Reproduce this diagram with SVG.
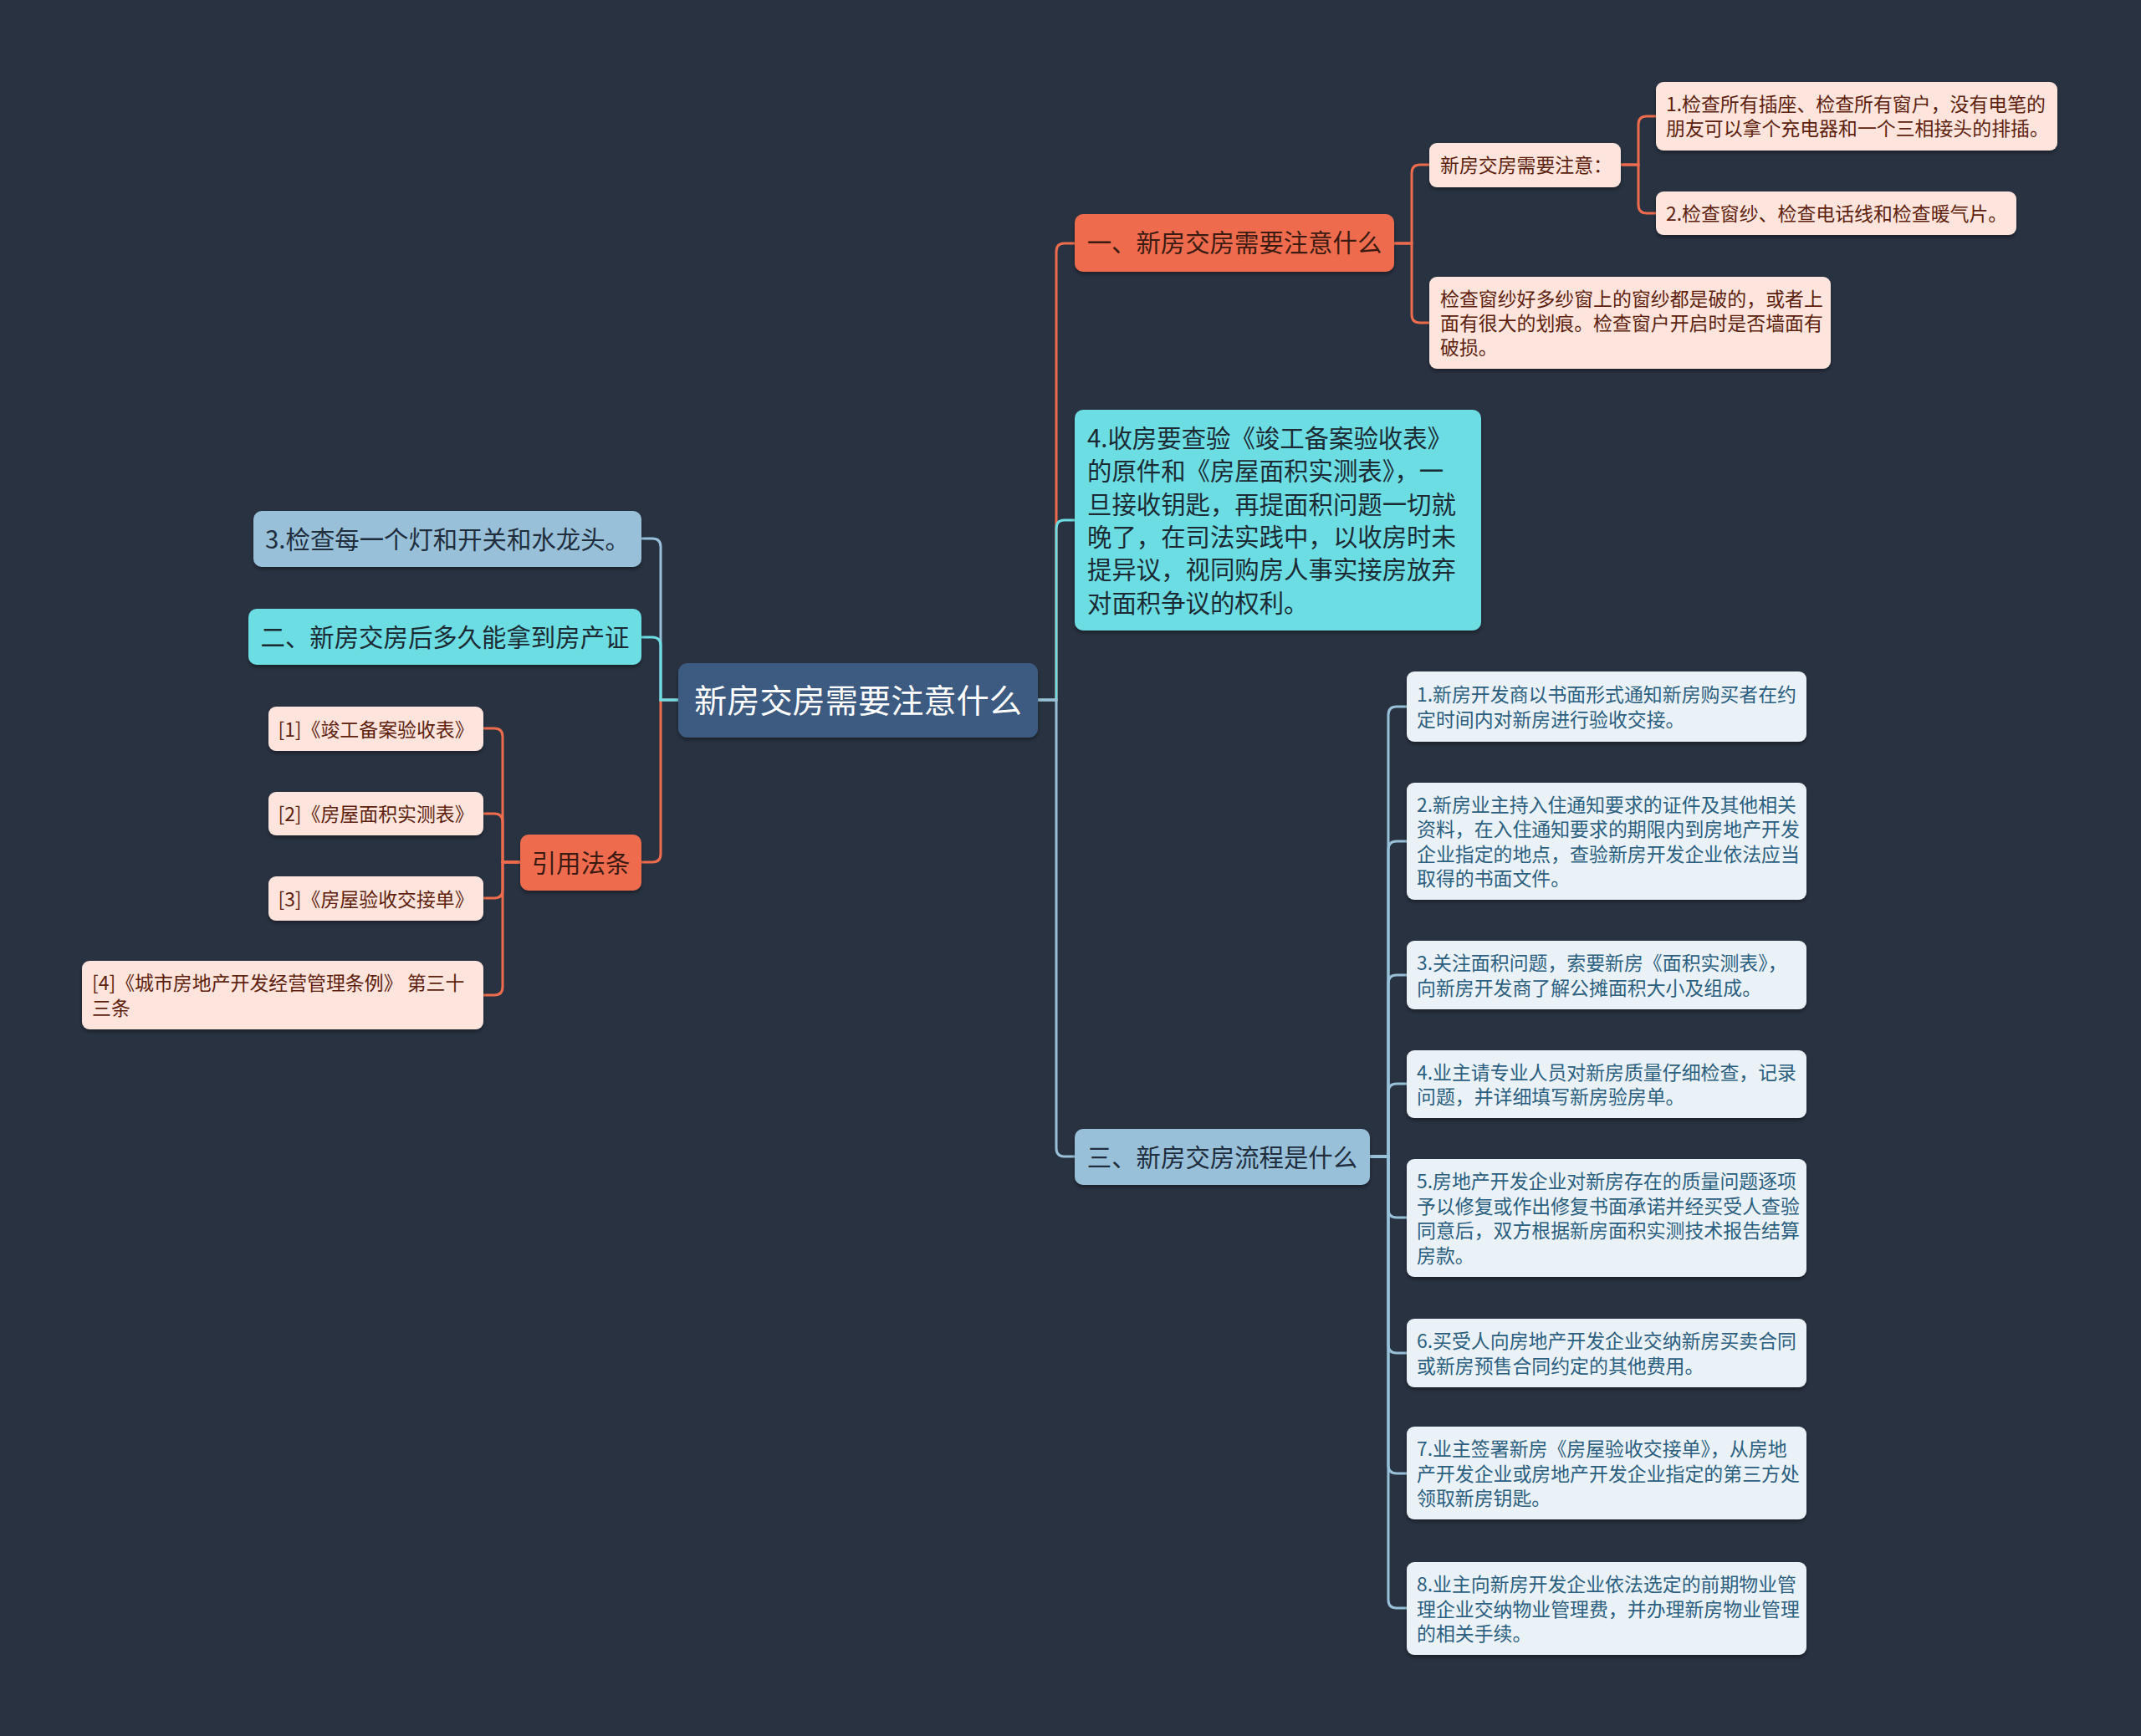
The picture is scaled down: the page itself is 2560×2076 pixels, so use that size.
<svg xmlns="http://www.w3.org/2000/svg" width="2560" height="2076" viewBox="0 0 2560 2076">
<defs>
<filter id="sh" x="-5%" y="-10%" width="110%" height="130%">
<feDropShadow dx="0" dy="3" stdDeviation="2" flood-color="#000" flood-opacity="0.35"/>
</filter>
<style>
text{font-family:"Noto Sans CJK SC","Noto Sans",sans-serif;}
.s{font-size:22.9px;}
.m{font-size:29.4px;}
.c{font-size:39.2px;fill:#ffffff;}
.mid{text-anchor:middle;}
.or rect{fill:#ee6c4d;} .or text{fill:#3b1a12;}
.pk rect{fill:#fde4dc;} .pk text{fill:#5e1f0f;}
.cy rect{fill:#6cdde2;} .cy text{fill:#1b2a33;}
.lb rect{fill:#98c1d9;} .lb text{fill:#1f2d3d;}
.vl rect{fill:#eaf2f8;} .vl text{fill:#2c5f7f;}
.root rect{fill:#3d5a80;}
rect{filter:url(#sh);}
.ln path{fill:none;stroke-width:3;stroke-linecap:round;}
.lo{stroke:#ee6c4d;} .lc{stroke:#6cdde2;} .ll{stroke:#98c1d9;}
</style>
</defs>
<rect x="0" y="0" width="2560" height="2076" fill="#293241" style="filter:none"/>

<g id="connectors" class="ln">
<!-- root right -->
<path class="lo" d="M1241,837 H1263 V301 Q1263,291 1273,291 H1285"/>
<path class="lc" d="M1241,837 H1263 V632 Q1263,622 1273,622 H1285"/>
<path class="ll" d="M1241,837 H1263 V1373 Q1263,1383 1273,1383 H1285"/>
<!-- root left -->
<path class="lo" d="M811,837 H790 V1021 Q790,1031 780,1031 H767"/>
<path class="ll" d="M811,837 H790 V654 Q790,644 780,644 H767"/>
<path class="lc" d="M811,837 H790 V772 Q790,762 780,762 H767"/>
<!-- 一 children -->
<path class="lo" d="M1667,291 H1688 V207 Q1688,197 1698,197 H1709"/>
<path class="lo" d="M1667,291 H1688 V376 Q1688,386 1698,386 H1709"/>
<!-- 新房交房需要注意 children -->
<path class="lo" d="M1938,197 H1959 V149 Q1959,139 1969,139 H1980"/>
<path class="lo" d="M1938,197 H1959 V245 Q1959,255 1969,255 H1980"/>
<!-- 引用法条 children -->
<path class="lo" d="M622,1031 H601 V881 Q601,871 591,871 H578"/>
<path class="lo" d="M622,1031 H601 V983 Q601,973 591,973 H578"/>
<path class="lo" d="M622,1031 H601 V1064 Q601,1074 591,1074 H578"/>
<path class="lo" d="M622,1031 H601 V1180 Q601,1190 591,1190 H578"/>
<!-- 三 children -->
<path class="ll" d="M1638,1383 H1660 V855 Q1660,845 1670,845 H1682"/>
<path class="ll" d="M1638,1383 H1660 V1016 Q1660,1006 1670,1006 H1682"/>
<path class="ll" d="M1638,1383 H1660 V1176 Q1660,1166 1670,1166 H1682"/>
<path class="ll" d="M1638,1383 H1660 V1306 Q1660,1296 1670,1296 H1682"/>
<path class="ll" d="M1638,1383 H1660 V1446 Q1660,1456 1670,1456 H1682"/>
<path class="ll" d="M1638,1383 H1660 V1608 Q1660,1618 1670,1618 H1682"/>
<path class="ll" d="M1638,1383 H1660 V1752 Q1660,1762 1670,1762 H1682"/>
<path class="ll" d="M1638,1383 H1660 V1913 Q1660,1923 1670,1923 H1682"/>
</g>

<g id="root" class="root">
<rect x="811" y="793" width="430" height="89" rx="11"/>
<text class="c mid" x="1026" y="852">新房交房需要注意什么</text>
</g>

<g id="n1" class="or">
<rect x="1285" y="256" width="382" height="69" rx="10"/>
<text class="m mid" x="1476" y="301">一、新房交房需要注意什么</text>
</g>
<g id="n1a" class="pk">
<rect x="1709" y="171" width="229" height="53" rx="9"/>
<text class="s" x="1722" y="206">新房交房需要注意：</text>
</g>
<g id="n1a1" class="pk">
<rect x="1980" y="98" width="480" height="82" rx="9"/>
<text class="s" x="1992"><tspan x="1992" y="133">1.检查所有插座、检查所有窗户，没有电笔的</tspan><tspan x="1992" y="162.4">朋友可以拿个充电器和一个三相接头的排插。</tspan></text>
</g>
<g id="n1a2" class="pk">
<rect x="1980" y="229" width="431" height="52" rx="9"/>
<text class="s" x="1992" y="263.5">2.检查窗纱、检查电话线和检查暖气片。</text>
</g>
<g id="n1b" class="pk">
<rect x="1709" y="331" width="480" height="110" rx="9"/>
<text class="s"><tspan x="1722" y="365.5">检查窗纱好多纱窗上的窗纱都是破的，或者上</tspan><tspan x="1722" y="394.9">面有很大的划痕。检查窗户开启时是否墙面有</tspan><tspan x="1722" y="424.3">破损。</tspan></text>
</g>

<g id="n2" class="cy">
<rect x="1285" y="490" width="486" height="264" rx="10"/>
<text class="m"><tspan x="1300" y="535">4.收房要查验《竣工备案验收表》</tspan><tspan x="1300" y="574.3">的原件和《房屋面积实测表》，一</tspan><tspan x="1300" y="613.6">旦接收钥匙，再提面积问题一切就</tspan><tspan x="1300" y="652.9">晚了，在司法实践中，以收房时未</tspan><tspan x="1300" y="692.2">提异议，视同购房人事实接房放弃</tspan><tspan x="1300" y="731.5">对面积争议的权利。</tspan></text>
</g>

<g id="n3" class="lb">
<rect x="1285" y="1350" width="353" height="67" rx="10"/>
<text class="m mid" x="1461.5" y="1394.5">三、新房交房流程是什么</text>
</g>
<g id="n3a" class="vl">
<rect x="1682" y="803" width="478" height="84" rx="9"/>
<text class="s"><tspan x="1694" y="839.3">1.新房开发商以书面形式通知新房购买者在约</tspan><tspan x="1694" y="868.7">定时间内对新房进行验收交接。</tspan></text>
</g>
<g id="n3b" class="vl">
<rect x="1682" y="936" width="478" height="140" rx="9"/>
<text class="s"><tspan x="1694" y="970.9">2.新房业主持入住通知要求的证件及其他相关</tspan><tspan x="1694" y="1000.3">资料，在入住通知要求的期限内到房地产开发</tspan><tspan x="1694" y="1029.7">企业指定的地点，查验新房开发企业依法应当</tspan><tspan x="1694" y="1059.1">取得的书面文件。</tspan></text>
</g>
<g id="n3c" class="vl">
<rect x="1682" y="1125" width="478" height="82" rx="9"/>
<text class="s"><tspan x="1694" y="1160.3">3.关注面积问题，索要新房《面积实测表》，</tspan><tspan x="1694" y="1189.7">向新房开发商了解公摊面积大小及组成。</tspan></text>
</g>
<g id="n3d" class="vl">
<rect x="1682" y="1256" width="478" height="81" rx="9"/>
<text class="s"><tspan x="1694" y="1290.8">4.业主请专业人员对新房质量仔细检查，记录</tspan><tspan x="1694" y="1320.2">问题，并详细填写新房验房单。</tspan></text>
</g>
<g id="n3e" class="vl">
<rect x="1682" y="1386" width="478" height="141" rx="9"/>
<text class="s"><tspan x="1694" y="1421.4">5.房地产开发企业对新房存在的质量问题逐项</tspan><tspan x="1694" y="1450.8">予以修复或作出修复书面承诺并经买受人查验</tspan><tspan x="1694" y="1480.2">同意后，双方根据新房面积实测技术报告结算</tspan><tspan x="1694" y="1509.6">房款。</tspan></text>
</g>
<g id="n3f" class="vl">
<rect x="1682" y="1577" width="478" height="82" rx="9"/>
<text class="s"><tspan x="1694" y="1612.3">6.买受人向房地产开发企业交纳新房买卖合同</tspan><tspan x="1694" y="1641.7">或新房预售合同约定的其他费用。</tspan></text>
</g>
<g id="n3g" class="vl">
<rect x="1682" y="1706" width="478" height="111" rx="9"/>
<text class="s"><tspan x="1694" y="1741.1">7.业主签署新房《房屋验收交接单》，从房地</tspan><tspan x="1694" y="1770.5">产开发企业或房地产开发企业指定的第三方处</tspan><tspan x="1694" y="1799.9">领取新房钥匙。</tspan></text>
</g>
<g id="n3h" class="vl">
<rect x="1682" y="1868" width="478" height="111" rx="9"/>
<text class="s"><tspan x="1694" y="1903.1">8.业主向新房开发企业依法选定的前期物业管</tspan><tspan x="1694" y="1932.5">理企业交纳物业管理费，并办理新房物业管理</tspan><tspan x="1694" y="1961.9">的相关手续。</tspan></text>
</g>

<g id="l1" class="lb">
<rect x="303" y="611" width="464" height="67" rx="10"/>
<text class="m mid" x="535" y="655.5">3.检查每一个灯和开关和水龙头。</text>
</g>
<g id="l2" class="cy">
<rect x="297" y="728" width="470" height="67" rx="10"/>
<text class="m mid" x="532" y="772.5">二、新房交房后多久能拿到房产证</text>
</g>
<g id="l3" class="or">
<rect x="622" y="998" width="145" height="67" rx="10"/>
<text class="m mid" x="694.5" y="1042.5">引用法条</text>
</g>
<g id="l3a" class="pk">
<rect x="321" y="845" width="257" height="53" rx="9"/>
<text class="s mid" x="449.5" y="880.5">[1]《竣工备案验收表》</text>
</g>
<g id="l3b" class="pk">
<rect x="321" y="947" width="257" height="52" rx="9"/>
<text class="s mid" x="449.5" y="982">[2]《房屋面积实测表》</text>
</g>
<g id="l3c" class="pk">
<rect x="321" y="1048" width="257" height="53" rx="9"/>
<text class="s mid" x="449.5" y="1083.5">[3]《房屋验收交接单》</text>
</g>
<g id="l3d" class="pk">
<rect x="98" y="1149" width="480" height="82" rx="9"/>
<text class="s"><tspan x="110" y="1184.3">[4]《城市房地产开发经营管理条例》 第三十</tspan><tspan x="110" y="1213.7">三条</tspan></text>
</g>
</svg>
